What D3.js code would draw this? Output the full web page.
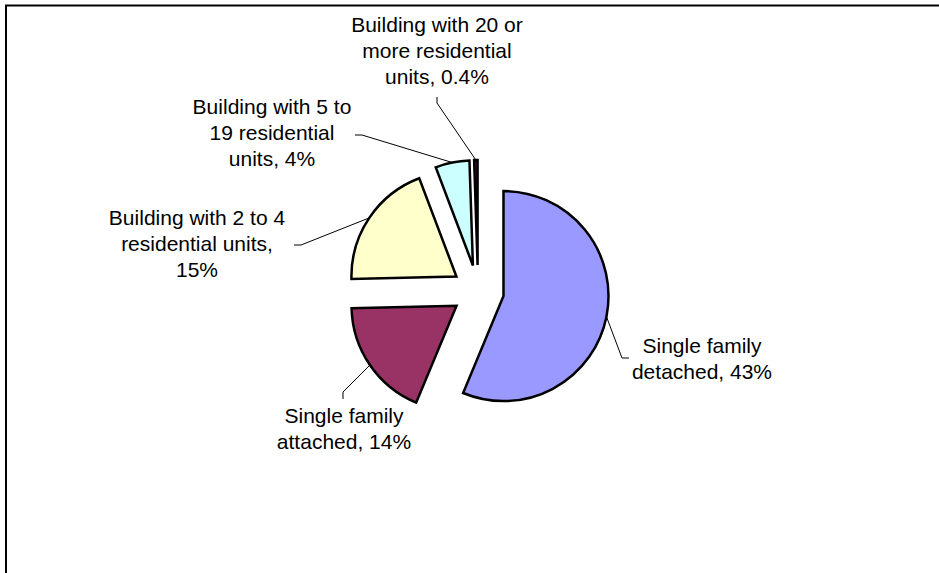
<!DOCTYPE html>
<html>
<head>
<meta charset="utf-8">
<script src="https://cdn.jsdelivr.net/npm/d3@7"></script>
<style>
  body { margin: 0; background: #fff; }
  text { font-family: "Liberation Sans", Arial, sans-serif; font-size: 21px; fill: #000; }
</style>
</head>
<body>
<div id="chart"></div>
<script>
// data
var categories = ['Single family detached', 'Single family attached',
                  'Building with 2 to 4 residential units',
                  'Building with 5 to 19 residential units',
                  'Building with 20 or more residential units'];
var values = [43, 14, 15, 4, 0.4];
var labelLines = [
    ['Single family', 'detached, 43%'],
    ['Single family', 'attached, 14%'],
    ['Building with 2 to 4', 'residential units,', '15%'],
    ['Building with 5 to', '19 residential', 'units, 4%'],
    ['Building with 20 or', 'more residential', 'units, 0.4%']
];
var colors = ['#9999ff', '#993366', '#ffffcc', '#ccffff', '#660066'];

// where Excel put the labels (text centre x, first baseline y, leader elbow + end)
var labelPos = [
    {x: 702, y: 353, elbow: [622, 358], end: [629, 358]},
    {x: 344, y: 423, elbow: [343, 392], end: [343, 399]},
    {x: 197, y: 225, elbow: [301, 245], end: [294, 245]},
    {x: 272, y: 114, elbow: [362, 135], end: [355, 135]},
    {x: 437, y: 32,  elbow: [437, 103], end: [437, 97]}
];

function drawPie(divId) {
    var width = 939, height = 573;
    var cx = 478, cy = 291, radius = 105, explode = 26, lineH = 26;

    var svg = d3.select(divId)
                .append('svg')
                .attr('width', width)
                .attr('height', height);

    // chart area frame (only top and left edge show)
    svg.append('path')
       .attr('d', 'M6,573V5.5H939')
       .attr('fill', 'none')
       .attr('stroke', '#000')
       .attr('stroke-width', 2);

    var pie = d3.pie().sort(null).value(d => d);
    var arcs = pie(values);

    var arc = d3.arc().innerRadius(0).outerRadius(radius);
    var edge = d3.arc().innerRadius(radius).outerRadius(radius);

    function shift(d) {
        var a = (d.startAngle + d.endAngle) / 2;
        return [cx + explode * Math.sin(a), cy - explode * Math.cos(a)];
    }

    var g = svg.append('g');

    g.selectAll('path')
     .data(arcs)
     .enter()
     .append('path')
     .attr('transform', d => 'translate(' + shift(d) + ')')
     .attr('d', arc)
     .attr('fill', (d, i) => colors[i])
     .attr('stroke', '#000')
     .attr('stroke-width', 2.5)
     .attr('stroke-linejoin', 'miter');

    // leader lines from the middle of each arc
    svg.selectAll('polyline')
       .data(arcs)
       .enter()
       .append('polyline')
       .attr('points', (d, i) => {
           var s = shift(d), c = edge.centroid(d);
           var p = labelPos[i];
           return [[s[0] + c[0], s[1] + c[1]], p.elbow, p.end].join(' ');
       })
       .attr('fill', 'none')
       .attr('stroke', '#000')
       .attr('stroke-width', 1);

    var labels = svg.selectAll('text.lbl')
       .data(labelLines)
       .enter()
       .append('text')
       .attr('class', 'lbl')
       .attr('text-anchor', 'middle');

    labels.selectAll('tspan')
       .data((d, i) => d.map(t => ({t: t, i: i})))
       .enter()
       .append('tspan')
       .attr('x', d => labelPos[d.i].x)
       .attr('y', (d, j) => labelPos[d.i].y + j * lineH)
       .text(d => d.t);
}

drawPie('#chart');
</script>
</body>
</html>
